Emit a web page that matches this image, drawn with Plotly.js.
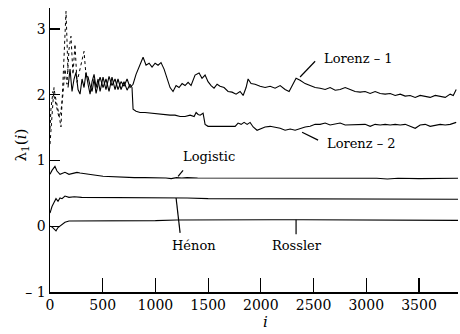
<!DOCTYPE html>
<html>
<head>
<meta charset="utf-8">
<script src="https://cdn.plot.ly/plotly-3.0.1.min.js"></script>
<style>html,body{margin:0;padding:0;background:#fff;}#chart{width:460px;height:334px;}</style>
</head>
<body>
<div id="chart"></div>
<script>
// ---- data ----
const lorenz1TransI = [0, 19, 28, 38, 47, 66, 85, 104, 114, 133, 152, 161, 171];
const lorenz1TransV = [1.25, 1.63, 1.93, 2.11, 2.0, 1.86, 1.7, 1.51, 1.93, 2.69, 3.27, 2.84, 2.31];
const lorenz2TransI = [0, 9, 28, 47, 66, 85, 104, 123, 142, 161, 180, 199, 218, 237, 256, 285, 323, 342];
const lorenz2TransV = [1.48, 1.78, 2.05, 1.93, 1.81, 1.66, 1.75, 2.01, 2.39, 2.16, 2.69, 2.89, 2.31, 2.77, 2.19, 2.39, 2.66, 2.28];

const lorenz1I = [171, 190, 209, 228, 247, 266, 285, 304, 323, 342, 361, 380, 399, 418, 437, 456, 475, 503, 531, 560, 588, 617, 645, 674, 702, 731, 759, 788, 816, 845, 883, 911, 940, 968, 997, 1025, 1053, 1082, 1110, 1139, 1167, 1196, 1224, 1253, 1281, 1310, 1338, 1376, 1414, 1442, 1471, 1499, 1528, 1556, 1585, 1613, 1651, 1689, 1727, 1765, 1803, 1832, 1860, 1879, 1907, 1945, 1993, 2040, 2088, 2135, 2183, 2230, 2268, 2297, 2334, 2372, 2420, 2467, 2515, 2562, 2610, 2657, 2705, 2752, 2800, 2847, 2894, 2942, 2989, 3037, 3084, 3132, 3179, 3227, 3274, 3322, 3369, 3416, 3464, 3511, 3559, 3606, 3654, 3701, 3749, 3796, 3825, 3853];
const lorenz1V = [2.11, 2.39, 2.05, 2.24, 2.34, 2.08, 2.01, 2.24, 2.11, 2.34, 2.16, 2.01, 2.2, 2.31, 2.11, 2.24, 2.05, 2.27, 2.08, 2.28, 2.14, 2.24, 2.08, 2.2, 2.13, 2.24, 2.11, 2.16, 2.31, 2.42, 2.57, 2.45, 2.48, 2.42, 2.48, 2.45, 2.49, 2.39, 2.24, 2.11, 2.05, 2.14, 2.11, 2.17, 2.14, 2.19, 2.14, 2.3, 2.33, 2.25, 2.3, 2.2, 2.14, 2.1, 2.16, 2.13, 2.11, 2.05, 2.04, 2.01, 2.05, 1.99, 2.11, 2.24, 2.17, 2.16, 2.13, 2.11, 2.13, 2.1, 2.14, 2.08, 2.05, 2.14, 2.25, 2.22, 2.17, 2.14, 2.11, 2.1, 2.08, 2.11, 2.07, 2.08, 2.11, 2.08, 2.05, 2.04, 2.05, 2.02, 2.05, 2.02, 2.01, 2.02, 1.99, 2.01, 1.98, 1.99, 1.96, 1.99, 1.98, 1.96, 1.99, 1.98, 1.96, 2.01, 1.99, 2.08];

const lorenz2I = [342, 361, 380, 399, 418, 437, 456, 475, 503, 531, 560, 588, 617, 645, 674, 702, 731, 759, 778, 788, 816, 854, 901, 949, 996, 1044, 1091, 1139, 1186, 1234, 1281, 1329, 1367, 1386, 1405, 1424, 1452, 1471, 1499, 1566, 1632, 1689, 1756, 1784, 1813, 1841, 1870, 1898, 1927, 1964, 2002, 2040, 2088, 2135, 2183, 2230, 2278, 2325, 2372, 2420, 2467, 2515, 2562, 2610, 2657, 2705, 2752, 2800, 2847, 2894, 2942, 2989, 3037, 3084, 3132, 3179, 3227, 3274, 3322, 3369, 3416, 3464, 3511, 3559, 3606, 3654, 3701, 3749, 3796, 3853];
const lorenz2V = [2.28, 2.27, 2.14, 2.05, 2.24, 2.02, 2.16, 2.27, 2.11, 2.24, 2.05, 2.27, 2.08, 2.24, 2.08, 2.2, 2.07, 2.16, 2.11, 1.78, 1.75, 1.73, 1.73, 1.72, 1.72, 1.7, 1.7, 1.69, 1.69, 1.67, 1.67, 1.69, 1.67, 1.73, 1.7, 1.69, 1.72, 1.55, 1.52, 1.52, 1.51, 1.51, 1.52, 1.57, 1.55, 1.58, 1.55, 1.58, 1.51, 1.46, 1.49, 1.51, 1.52, 1.51, 1.49, 1.46, 1.48, 1.46, 1.49, 1.51, 1.52, 1.55, 1.55, 1.57, 1.54, 1.55, 1.57, 1.54, 1.54, 1.55, 1.54, 1.55, 1.52, 1.55, 1.54, 1.55, 1.54, 1.55, 1.54, 1.55, 1.52, 1.49, 1.54, 1.55, 1.52, 1.54, 1.55, 1.54, 1.55, 1.58];

const logisticI = [0, 19, 47, 66, 95, 142, 180, 218, 256, 285, 342, 418, 503, 600, 700, 800, 900, 1000, 1100, 1150, 1200, 1250, 1300, 1400, 1500, 1700, 1900, 2100, 2300, 2500, 2700, 2900, 3100, 3200, 3300, 3500, 3700, 3870];
const logisticV = [0.79, 0.85, 0.91, 0.84, 0.79, 0.82, 0.79, 0.81, 0.82, 0.81, 0.8, 0.78, 0.76, 0.75, 0.75, 0.74, 0.74, 0.74, 0.735, 0.725, 0.74, 0.735, 0.74, 0.735, 0.735, 0.73, 0.73, 0.73, 0.73, 0.73, 0.73, 0.725, 0.73, 0.72, 0.73, 0.725, 0.73, 0.73];

const henonI = [0, 9, 19, 38, 57, 76, 95, 114, 142, 180, 230, 300, 400, 500, 700, 900, 1100, 1300, 1500, 1700, 2000, 2300, 2600, 2900, 3200, 3400, 3500, 3600, 3870];
const henonV = [0.2, 0.25, 0.3, 0.36, 0.42, 0.38, 0.43, 0.42, 0.46, 0.44, 0.45, 0.44, 0.44, 0.43, 0.43, 0.43, 0.43, 0.43, 0.42, 0.42, 0.42, 0.42, 0.42, 0.42, 0.42, 0.41, 0.42, 0.41, 0.41];

const rosslerI = [0, 19, 38, 57, 76, 95, 114, 142, 180, 240, 330, 450, 600, 800, 1000, 1200, 1500, 1800, 2100, 2400, 2700, 3000, 3300, 3600, 3870];
const rosslerV = [0, -0.01, -0.04, -0.07, -0.02, 0, 0.03, 0.06, 0.08, 0.08, 0.085, 0.09, 0.09, 0.085, 0.085, 0.095, 0.1, 0.1, 0.1, 0.1, 0.1, 0.1, 0.095, 0.09, 0.09];

const xTickVals = [0, 500, 1000, 1500, 2000, 2500, 3000, 3500];
const xTickText = ['0', '500', '1000', '1500', '2000', '2500', '3000', '3500'];
const yTickVals = [-1, 0, 1, 2, 3];
const yTickText = ['\u2013 1', '0', '1', '2', '3'];

const seriesLabels = ['Lorenz \u2013 1', 'Lorenz \u2013 2', 'Logistic', 'H\u00e9non', 'Rossler'];
const labelPosI = [2581, 2610, 1509, 1367, 2344];
const labelPosV = [2.55, 1.26, 1.06, -0.30, -0.30];
const labelAnchor = ['left', 'left', 'center', 'center', 'center'];
// leader lines: [i0, v0, i1, v1]
const leaders = [
  [2515, 2.51, 2372, 2.27],
  [2391, 1.43, 2543, 1.31],
  [1262, 0.85, 1215, 0.76],
  [1196, 0.43, 1234, -0.10],
  [2334, 0.10, 2334, -0.12]
];

// ---- plot ----
const FONT = '"DejaVu Serif", serif';
const solid = {color: '#000', width: 1.1};
const dotted = {color: '#000', width: 1, dash: 'dot'};
const traces = [
  {x: lorenz1TransI, y: lorenz1TransV, mode: 'lines', line: dotted},
  {x: lorenz2TransI, y: lorenz2TransV, mode: 'lines', line: dotted},
  {x: lorenz1I, y: lorenz1V, mode: 'lines', line: solid},
  {x: lorenz2I, y: lorenz2V, mode: 'lines', line: solid},
  {x: logisticI, y: logisticV, mode: 'lines', line: solid},
  {x: henonI, y: henonV, mode: 'lines', line: solid},
  {x: rosslerI, y: rosslerV, mode: 'lines', line: solid}
];

const annotations = seriesLabels.map((t, k) => ({
  x: labelPosI[k], y: labelPosV[k], xref: 'x', yref: 'y', text: t, showarrow: false,
  xanchor: labelAnchor[k], yanchor: 'middle', font: {family: FONT, size: 13, color: '#000'}
}));
annotations.push({
  xref: 'paper', yref: 'y', x: -29 / 408, y: 1.23, text: '\u03bb<sub>1</sub>(<i>i</i>)', textangle: -90,
  showarrow: false, xanchor: 'center', yanchor: 'middle', font: {family: FONT, size: 15, color: '#000'}
});
annotations.push({
  xref: 'x', yref: 'paper', x: 2040, y: -30 / 284, text: '<i>i</i>', showarrow: false,
  xanchor: 'center', yanchor: 'middle', font: {family: FONT, size: 15, color: '#000'}
});

const shapes = leaders.map(l => ({
  type: 'line', xref: 'x', yref: 'y', x0: l[0], y0: l[1], x1: l[2], y1: l[3],
  line: {color: '#000', width: 1.2}
}));

const layout = {
  width: 460, height: 334,
  margin: {l: 50, r: 2, t: 8, b: 42},
  paper_bgcolor: '#fff', plot_bgcolor: '#fff',
  showlegend: false,
  font: {family: FONT, size: 14, color: '#000'},
  xaxis: {
    range: [0, 3870], showgrid: false, zeroline: false, showline: true, linecolor: '#000', linewidth: 1.5,
    ticks: 'inside', ticklen: 14, tickwidth: 1.2, tickcolor: '#000',
    tickvals: xTickVals, ticktext: xTickText, tickfont: {family: FONT, size: 14, color: '#000'}
  },
  yaxis: {
    range: [-1, 3.32], showgrid: false, zeroline: false, showline: true, linecolor: '#000', linewidth: 1.5,
    ticks: 'inside', ticklen: 10, tickwidth: 1.2, tickcolor: '#000',
    tickvals: yTickVals, ticktext: yTickText, tickfont: {family: FONT, size: 14, color: '#000'}
  },
  annotations: annotations,
  shapes: shapes
};

Plotly.newPlot('chart', traces, layout, {staticPlot: true, displayModeBar: false});
</script>
</body>
</html>
